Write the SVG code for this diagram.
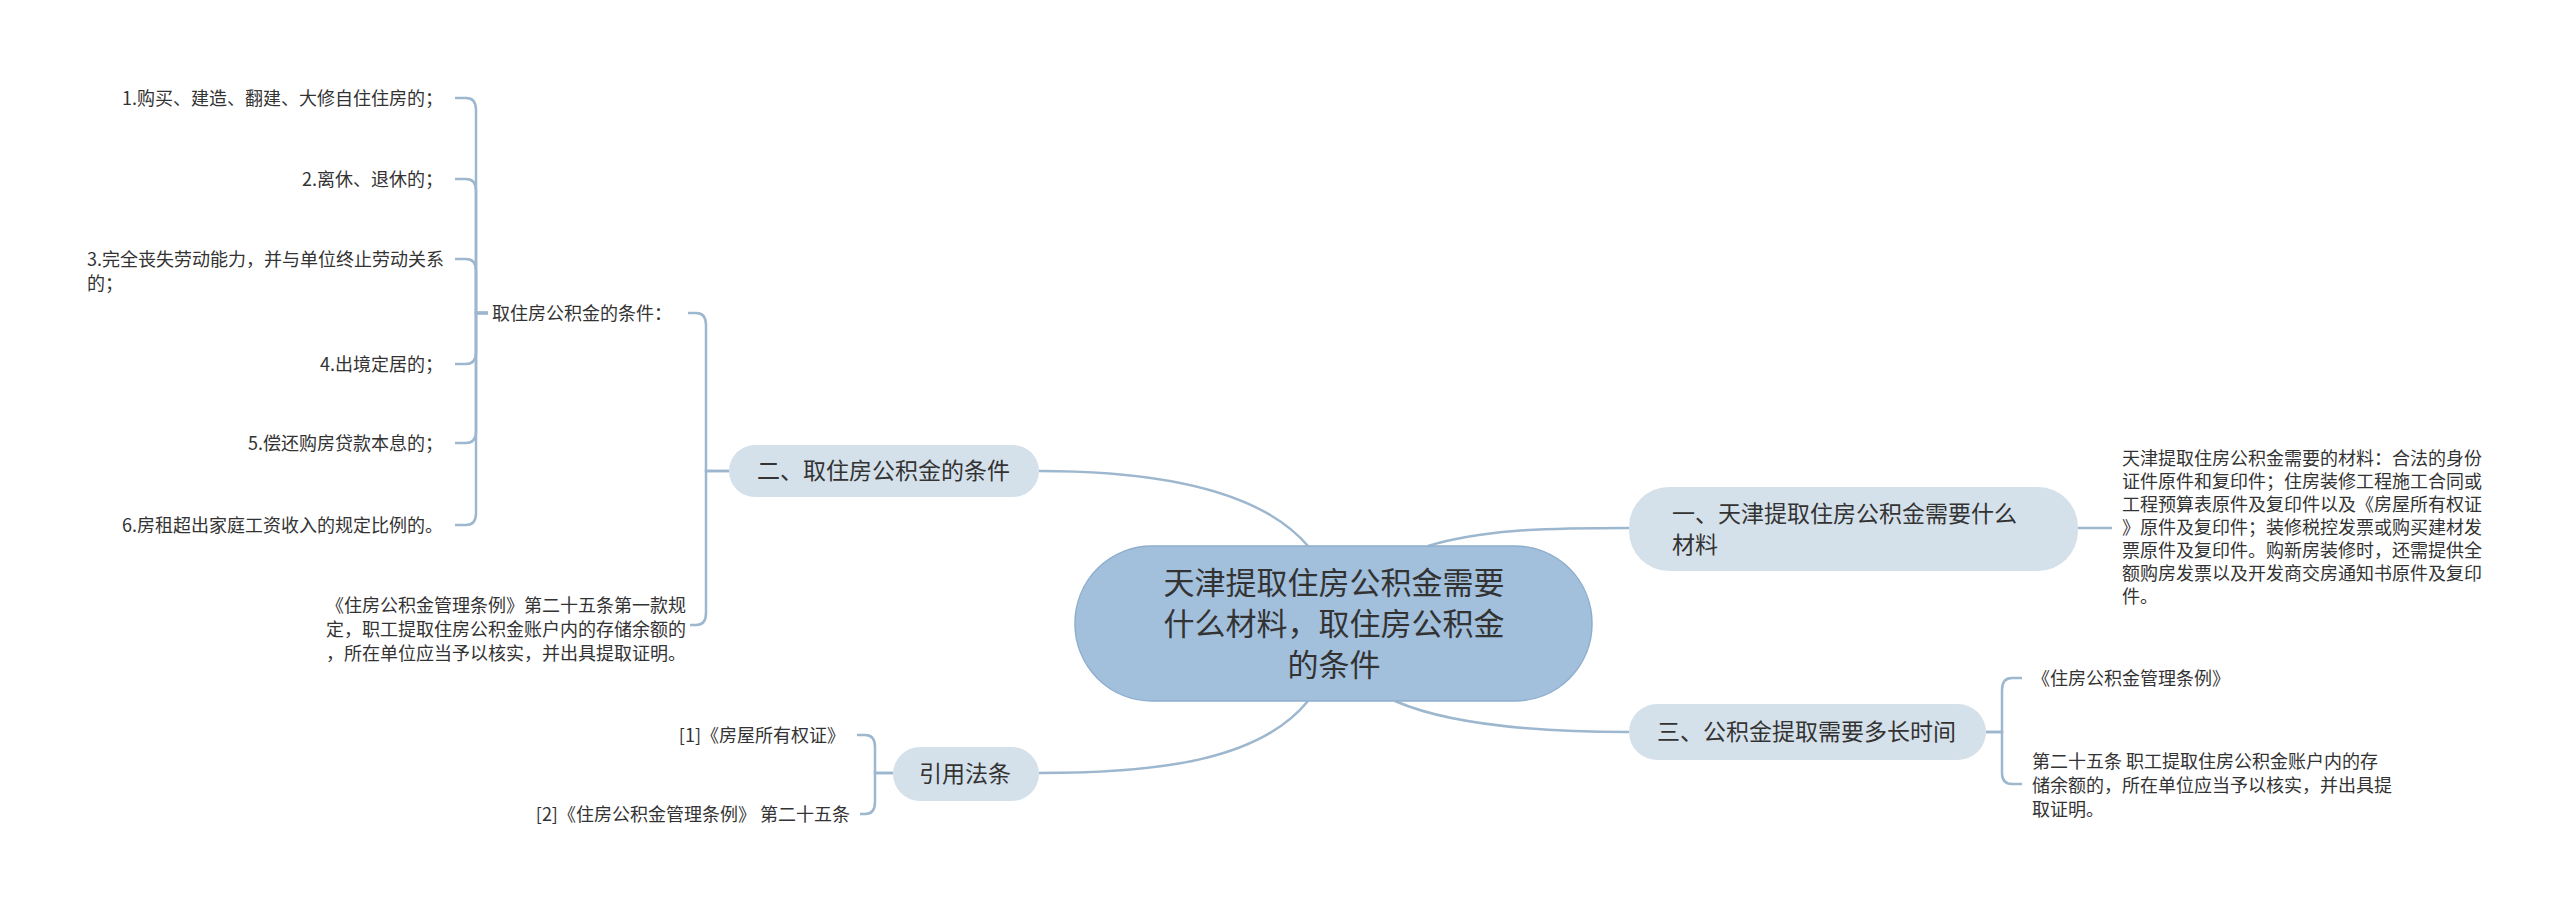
<svg xmlns="http://www.w3.org/2000/svg" width="2560" height="909" viewBox="0 0 2560 909">
<style>
text{font-family:"Noto Sans CJK SC","Noto Sans",sans-serif;fill:#333}
.l{font-size:18px}
.m{font-size:23px}
.c{font-size:31px}
.e{text-anchor:end}
.n{fill:#d5e1ea}
#conn path{fill:none;stroke:#9db7cf;stroke-width:2.5}
</style>
<rect width="2560" height="909" fill="#fff"/>
<g id="conn">
<path d="M1308,546 C1260,490 1160,471 1039,471"/>
<path d="M1308,701 C1260,760 1160,773 1039,773"/>
<path d="M1428,546 C1480,530 1540,528 1629,528"/>
<path d="M1395,701 C1450,725 1540,732 1629,732"/>
<path d="M2078,528 H2112"/>
<path d="M1986,732 H2002 V690 Q2002,678 2012,678 H2022"/>
<path d="M1986,732 H2002 V773 Q2002,784 2012,784 H2022"/>
<path d="M729,471 H706 V325 Q706,313 696,313 H688"/>
<path d="M729,471 H706 V613 Q706,625 696,625 H690"/>
<path d="M488,313 H476 V110 Q476,98 466,98 H455"/>
<path d="M488,313 H476 V191 Q476,179 466,179 H455"/>
<path d="M488,313 H476 V271 Q476,259 466,259 H455"/>
<path d="M488,313 H476 V352 Q476,364 466,364 H455"/>
<path d="M488,313 H476 V431 Q476,443 466,443 H455"/>
<path d="M488,313 H476 V513 Q476,525 466,525 H455"/>
<path d="M893,773 H875 V747 Q875,735 865,735 H857"/>
<path d="M893,773 H875 V802 Q875,814 865,814 H860"/>
</g>
<g id="center">
<rect x="1075" y="546" width="517" height="155" rx="77" fill="#a2bfdc" stroke="#8eaecd" stroke-width="1.5"/>
<text class="c" x="1334" y="594" text-anchor="middle">天津提取住房公积金需要</text>
<text class="c" x="1334" y="635" text-anchor="middle">什么材料，取住房公积金</text>
<text class="c" x="1334" y="676" text-anchor="middle">的条件</text>
</g>
<g id="n1">
<rect class="n" x="1629" y="487" width="449" height="84" rx="40"/>
<text class="m" x="1672" y="522">一、天津提取住房公积金需要什么</text>
<text class="m" x="1672" y="553">材料</text>
</g>
<g id="n1a" class="l">
<text x="2122" y="465">天津提取住房公积金需要的材料：合法的身份</text>
<text x="2122" y="488">证件原件和复印件；住房装修工程施工合同或</text>
<text x="2122" y="511">工程预算表原件及复印件以及《房屋所有权证</text>
<text x="2122" y="534">》原件及复印件；装修税控发票或购买建材发</text>
<text x="2122" y="557">票原件及复印件。购新房装修时，还需提供全</text>
<text x="2122" y="580">额购房发票以及开发商交房通知书原件及复印</text>
<text x="2122" y="603">件。</text>
</g>
<g id="n3">
<rect class="n" x="1629" y="704" width="357" height="56" rx="28"/>
<text class="m" x="1657" y="740">三、公积金提取需要多长时间</text>
</g>
<g id="n3a"><text class="l" x="2032" y="685">《住房公积金管理条例》</text></g>
<g id="n3b" class="l">
<text x="2032" y="768">第二十五条  职工提取住房公积金账户内的存</text>
<text x="2032" y="792">储余额的，所在单位应当予以核实，并出具提</text>
<text x="2032" y="816">取证明。</text>
</g>
<g id="n2">
<rect class="n" x="729" y="445" width="310" height="52" rx="26"/>
<text class="m" x="757" y="479">二、取住房公积金的条件</text>
</g>
<g id="n2a"><text class="l e" x="672" y="320">取住房公积金的条件：</text></g>
<g id="n2b" class="l">
<text class="e" x="686" y="612">《住房公积金管理条例》第二十五条第一款规</text>
<text class="e" x="686" y="636">定，职工提取住房公积金账户内的存储余额的</text>
<text class="e" x="686" y="660">，所在单位应当予以核实，并出具提取证明。</text>
</g>
<g id="c1"><text class="l e" x="443" y="105">1.购买、建造、翻建、大修自住住房的；</text></g>
<g id="c2"><text class="l e" x="443" y="186">2.离休、退休的；</text></g>
<g id="c3" class="l"><text x="87" y="266">3.完全丧失劳动能力，并与单位终止劳动关系</text><text x="87" y="290">的；</text></g>
<g id="c4"><text class="l e" x="443" y="371">4.出境定居的；</text></g>
<g id="c5"><text class="l e" x="443" y="450">5.偿还购房贷款本息的；</text></g>
<g id="c6"><text class="l e" x="443" y="532">6.房租超出家庭工资收入的规定比例的。</text></g>
<g id="n4">
<rect class="n" x="893" y="747" width="146" height="54" rx="27"/>
<text class="m" x="919" y="782">引用法条</text>
</g>
<g id="n4a"><text class="l e" x="845" y="742">[1]《房屋所有权证》</text></g>
<g id="n4b"><text class="l e" x="850" y="821">[2]《住房公积金管理条例》 第二十五条</text></g>
</svg>
